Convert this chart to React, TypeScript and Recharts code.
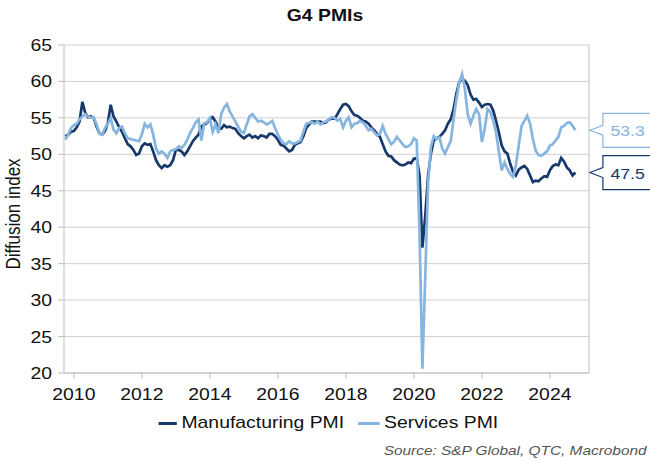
import { CartesianGrid, LabelList, Line, LineChart, XAxis, YAxis } from "recharts";

// Monthly readings, Oct 2009 to Oct 2024
const START_YEAR = 2009;
const START_MONTH = 9; // October, zero-based

const manufacturing = [
  52.5, 52.7, 53.1, 53.2, 53.7, 54.5, 57.2, 55.7, 55.1, 55.2, 55.0, 53.8,
  52.9, 52.7, 53.2, 54.3, 56.8, 55.2, 54.5, 53.7, 53.1, 52.2, 51.4, 51.1,
  50.6, 49.9, 50.1, 51.1, 51.5, 51.3, 51.4, 50.4, 49.2, 48.5, 48.1, 48.5,
  48.3, 48.5, 49.2, 50.6, 50.6, 50.4, 49.9, 50.4, 51.1, 51.8, 52.3, 52.7,
  53.8, 54.1, 54.3, 54.8, 55.1, 54.5, 53.6, 53.5, 54.0, 53.7, 53.8, 53.6,
  53.5, 52.9, 52.5, 52.2, 52.5, 52.7, 52.3, 52.5, 52.2, 52.6, 52.5, 52.3,
  52.8, 52.8, 52.5, 52.0, 51.3, 51.2, 50.8, 50.4, 50.6, 51.3, 51.5, 51.7,
  52.5, 53.6, 54.1, 54.5, 54.5, 54.5, 54.5, 54.3, 54.4, 54.8, 54.9, 54.9,
  55.5, 56.2, 56.8, 56.9, 56.6, 55.9, 55.4, 55.3, 55.0, 54.6, 54.5, 54.2,
  53.7, 53.3, 52.8, 52.4, 51.4, 50.4, 49.8, 49.7, 49.2, 48.9, 48.6, 48.5,
  48.6, 48.9, 48.8, 49.4, 49.5, 47.1, 37.2, 41.5, 47.0, 50.1, 51.9, 52.2,
  52.4, 52.8, 53.3, 54.2, 54.8, 56.2, 58.3, 59.9, 60.3, 60.1, 59.5, 58.2,
  57.5, 57.6, 57.1, 56.5, 56.8, 56.9, 56.8, 56.0, 54.6, 53.0, 51.2, 50.4,
  50.1, 48.7, 47.6, 47.1, 47.9, 48.2, 48.4, 48.0, 47.1, 46.2, 46.4, 46.3,
  46.7, 47.0, 46.9, 47.8, 48.4, 48.6, 48.5, 49.5, 49.0, 48.2, 47.8, 47.1,
  47.5,
];

const services = [
  52.0, 52.7, 53.6, 54.0, 54.2, 54.8, 55.2, 55.5, 55.2, 55.0, 55.1, 54.1,
  52.9, 52.7, 53.6, 54.2, 55.0, 53.4, 52.9, 53.6, 53.8, 52.9, 52.2, 52.1,
  52.0, 51.9, 51.8, 52.7, 54.2, 53.7, 54.1, 52.7, 50.8, 50.1, 50.4, 50.1,
  49.5, 50.4, 50.6, 50.7, 51.1, 50.9, 51.3, 52.0, 52.9, 53.6, 54.4, 54.8,
  51.9, 54.3, 54.4, 55.0, 53.1, 54.1, 52.9, 55.5, 56.4, 56.9, 55.9, 55.2,
  54.5, 53.8, 53.1, 52.9, 54.1, 55.2, 55.5, 55.0, 54.5, 54.6, 54.4, 54.1,
  54.3, 54.6, 53.6, 52.7, 52.0, 51.5, 51.4, 51.8, 51.5, 51.5, 51.7, 51.9,
  53.1, 54.2, 54.3, 54.4, 54.2, 54.5, 54.1, 54.4, 54.5, 54.8, 55.1, 55.0,
  54.6, 54.9, 53.7, 54.6, 55.1, 53.7, 54.2, 54.3, 54.6, 54.4, 53.9, 53.3,
  53.5, 53.0, 52.6, 52.8, 53.9, 52.8, 52.1, 51.4, 51.7, 52.4, 51.9, 51.4,
  51.0, 51.1, 51.4, 52.2, 51.9, 39.0, 20.6, 33.0, 46.0, 51.0, 52.5, 52.1,
  52.3, 50.8, 50.1, 51.0, 51.8, 54.8, 57.5, 59.8, 61.0, 59.0, 55.5, 54.2,
  55.3, 56.2, 55.5, 51.7, 53.5, 56.2, 55.8, 54.6, 53.0, 50.3, 47.8, 48.9,
  48.0, 47.3, 46.9, 48.5, 51.2, 53.9, 54.6, 55.3, 54.2, 52.1, 50.5, 49.9,
  49.8, 50.1, 50.4, 51.2, 51.4, 51.9, 52.4, 53.7, 53.9, 54.3, 54.4, 53.9,
  53.3,
];

const yearTicks = [2010, 2012, 2014, 2016, 2018, 2020, 2022, 2024];
const valueTicks = [20, 25, 30, 35, 40, 45, 50, 55, 60, 65];

const MANUF_COLOR = "#17386a";
const SERV_COLOR = "#86b5e0";
const TEXT_COLOR = "#111";
const FONT = "'Liberation Sans', Arial, sans-serif";
// text in this chart is set a little wide
const WIDE = 1.14;

const rows = manufacturing.map((m, i) => ({
  t: START_YEAR + (START_MONTH + i) / 12,
  manufacturing: m,
  services: services[i],
}));
const lastIndex = rows.length - 1;

function YearTick({ x, y, payload }: any) {
  return (
    <text
      transform={`translate(${x},${y + 19}) scale(${WIDE},1)`}
      textAnchor="middle"
      fill={TEXT_COLOR}
      fontSize={17}
      fontFamily={FONT}
    >
      {Math.round(payload.value)}
    </text>
  );
}

function ValueTick({ x, y, payload }: any) {
  return (
    <text
      transform={`translate(${x - 4},${y + 6}) scale(${WIDE},1)`}
      textAnchor="end"
      fill={TEXT_COLOR}
      fontSize={17}
      fontFamily={FONT}
    >
      {payload.value}
    </text>
  );
}

function AxisTitle() {
  return (
    <text
      transform={`translate(20,214) scale(${WIDE},1) rotate(-90)`}
      textAnchor="middle"
      fill={TEXT_COLOR}
      fontSize={17}
      fontFamily={FONT}
    >
      Diffusion index
    </text>
  );
}

// Callout box pointing at the latest value, drawn just past the plot edge
function endCallout(color: string) {
  return (props: any) => {
    const { x, y, index, value } = props;
    if (index !== lastIndex) return null;
    const tip = x + 14.5;
    const left = x + 27.5;
    const d = `M${tip},${y} L${left},${y - 5} L${left},${y - 17} L${left + 60},${y - 17} L${left + 60},${y + 17} L${left},${y + 17} L${left},${y + 5} Z`;
    return (
      <g>
        <path d={d} fill="#fff" stroke={color} strokeWidth={1.2} />
        <text
          transform={`translate(${left + 7.5},${y + 6}) scale(${WIDE},1)`}
          fill={color}
          fontSize={15.5}
          fontFamily={FONT}
        >
          {Number(value).toFixed(1)}
        </text>
      </g>
    );
  };
}

export default function App() {
  return (
    <div style={{ position: "absolute", left: 0, top: 0, width: 650, height: 461, background: "#fff", fontFamily: FONT, overflow: "hidden" }}>
      <div style={{ position: "absolute", left: 0, top: 6, width: 650, textAlign: "center", fontSize: 17, fontWeight: "bold", color: TEXT_COLOR, transform: `scaleX(${WIDE})` }}>
        G4 PMIs
      </div>
      <LineChart width={650} height={461} data={rows} margin={{ top: 45, right: 0, bottom: 58, left: 0 }}>
        <CartesianGrid vertical={false} stroke="#cfcfcf" yAxisId="left" />
        <XAxis
          dataKey="t"
          type="number"
          domain={[2009.71, 2025.15]}
          ticks={yearTicks}
          allowDataOverflow
          height={30}
          tickSize={6}
          stroke="#bdbdbd"
          tick={<YearTick />}
        />
        <YAxis
          yAxisId="left"
          domain={[20, 65]}
          ticks={valueTicks}
          width={64}
          tickSize={6}
          stroke="#bdbdbd"
          tick={<ValueTick />}
          label={<AxisTitle />}
        />
        <YAxis yAxisId="right" orientation="right" domain={[20, 65]} width={61} tick={false} tickLine={false} stroke="#bdbdbd" />
        <Line
          yAxisId="left"
          dataKey="manufacturing"
          stroke={MANUF_COLOR}
          strokeWidth={2.7}
          dot={false}
          type="linear"
          isAnimationActive={false}
        >
          <LabelList dataKey="manufacturing" content={endCallout(MANUF_COLOR)} />
        </Line>
        <Line
          yAxisId="left"
          dataKey="services"
          stroke={SERV_COLOR}
          strokeWidth={2.7}
          dot={false}
          type="linear"
          isAnimationActive={false}
        >
          <LabelList dataKey="services" content={endCallout(SERV_COLOR)} />
        </Line>
      </LineChart>
      <div style={{ position: "absolute", left: 0, top: 413, width: 650, display: "flex", justifyContent: "center", alignItems: "center", fontSize: 17, color: TEXT_COLOR, paddingLeft: 6, boxSizing: "border-box", transform: `scaleX(${WIDE})` }}>
        <span style={{ display: "inline-block", width: 16, height: 3, background: MANUF_COLOR, marginRight: 4 }} />
        <span style={{ marginRight: 12 }}>Manufacturing PMI</span>
        <span style={{ display: "inline-block", width: 19, height: 3, background: SERV_COLOR, marginRight: 4 }} />
        <span>Services PMI</span>
      </div>
      <div style={{ position: "absolute", right: 3, top: 443, fontSize: 13.5, fontStyle: "italic", color: "#555", transform: `scaleX(${WIDE})`, transformOrigin: "right center" }}>
        Source: S&amp;P Global, QTC, Macrobond
      </div>
    </div>
  );
}
